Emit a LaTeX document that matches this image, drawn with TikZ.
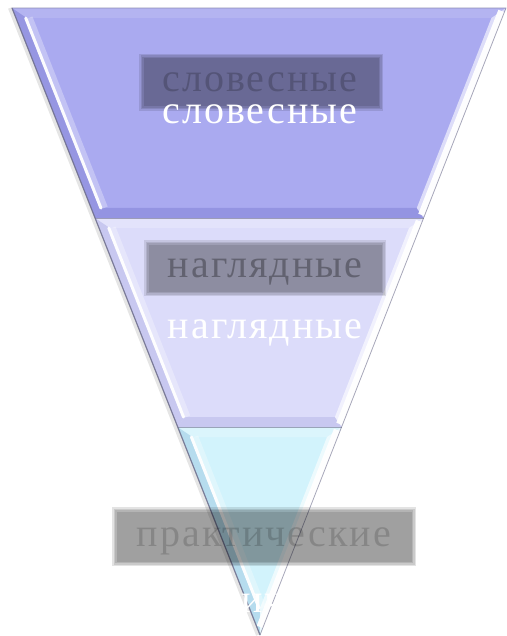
\documentclass[tikz,border=0pt]{standalone}
\usepackage{fontspec}
\setmainfont[LetterSpace=5]{Liberation Serif}
\usetikzlibrary{calc}
\definecolor{baseA}{RGB}{170,170,240}
\definecolor{darkA}{RGB}{150,150,226}
\definecolor{botA}{RGB}{148,148,226}
\definecolor{baseB}{RGB}{220,220,250}
\definecolor{darkB}{RGB}{200,200,240}
\definecolor{botB}{RGB}{200,200,240}
\definecolor{baseC}{RGB}{210,243,252}
\definecolor{darkC}{RGB}{182,220,238}
\definecolor{edgegray}{RGB}{110,110,140}
\begin{document}
\begin{tikzpicture}[x=1pt,y=-1pt,
  lbl/.style={font=\fontsize{40}{48}\selectfont, inner sep=0pt, anchor=base},
  whitelbl/.style={lbl, text=white},
  shadowlbl/.style={lbl, text=black, text opacity=0.2},
  hilite/.style={white, line width=3pt, opacity=0.95, line cap=round},
  hiliteglow/.style={white, line width=8pt, opacity=0.3},
  rhilite/.style={white, line width=7pt, opacity=0.95},
  outline/.style={draw=edgegray, line width=0.8pt, draw opacity=0.6, line join=round}]
\useasboundingbox (0,0) rectangle (506,636);
% outer corners
\coordinate (A1) at (12,8);    \coordinate (B1) at (506,8);
\coordinate (C1) at (423.6,218); \coordinate (D1) at (95.1,218);
\coordinate (C2) at (341.6,427); \coordinate (D2) at (177.7,427);
\coordinate (P) at (260,635);
% inner corners
\coordinate (a1) at (26.7,18);  \coordinate (b1) at (491.4,18);
\coordinate (c1) at (416.8,208); \coordinate (d1) at (101.9,208);
\coordinate (a2) at (109.8,228); \coordinate (b2) at (409,228);
\coordinate (c2) at (334.9,417); \coordinate (d2) at (184.5,417);
\coordinate (a3) at (192.4,437); \coordinate (b3) at (327,437);
\coordinate (p3) at (260,608);
% soft shadow along left edge
\draw[black, line width=4pt, opacity=0.10] ([xshift=-2pt]A1) -- ([xshift=-2pt]P);
% ---------- top segment ----------
\fill[baseA] (A1) -- (B1) -- (C1) -- (D1) -- cycle;
\fill[darkA] (A1) -- (a1) -- (d1) -- (D1) -- cycle;
\fill[botA] (D1) -- (d1) -- (c1) -- (C1) -- cycle;
\fill[white, opacity=0.12] (A1) -- (B1) -- (b1) -- (a1) -- cycle;
\fill[white, opacity=0.6] (B1) -- (b1) -- (c1) -- (C1) -- cycle;
\draw[hiliteglow] ([xshift=2pt]a1) -- ([xshift=2pt]d1);
\draw[hilite] ([xshift=-1pt]a1) -- ([xshift=-1pt]d1);
\draw[rhilite] ($(B1)!0.3!(b1)$) -- ($(C1)!0.3!(c1)$);
% ---------- middle segment ----------
\fill[baseB] (D1) -- (C1) -- (C2) -- (D2) -- cycle;
\fill[darkB] (D1) -- (a2) -- (d2) -- (D2) -- cycle;
\fill[botB] (D2) -- (d2) -- (c2) -- (C2) -- cycle;
\fill[white, opacity=0.2] (D1) -- (C1) -- (b2) -- (a2) -- cycle;
\fill[white, opacity=0.6] (C1) -- (b2) -- (c2) -- (C2) -- cycle;
\draw[hiliteglow] ([xshift=2pt]a2) -- ([xshift=2pt]d2);
\draw[hilite] ([xshift=-1pt]a2) -- ([xshift=-1pt]d2);
\draw[rhilite] ($(C1)!0.3!(b2)$) -- ($(C2)!0.3!(c2)$);
% ---------- bottom segment ----------
\fill[baseC] (D2) -- (C2) -- (P) -- cycle;
\fill[darkC] (D2) -- (a3) -- (p3) -- (P) -- cycle;
\fill[white, opacity=0.2] (D2) -- (C2) -- (b3) -- (a3) -- cycle;
\fill[white, opacity=0.6] (C2) -- (b3) -- (p3) -- (P) -- cycle;
\draw[hiliteglow] ([xshift=2pt]a3) -- ([xshift=2pt]p3);
\draw[hilite] ([xshift=-1pt]a3) -- ([xshift=-1pt]p3);
\draw[rhilite] ($(C2)!0.3!(b3)$) -- ($(P)!0.3!(p3)$);
% outlines
\draw[outline] (A1) -- (B1) -- (P) -- cycle;
\draw[edgegray, line width=1.2pt, opacity=0.7] (A1) -- (P);
\draw[outline] (D1) -- (C1);
\draw[outline] (D2) -- (C2);
% ---------- blurred shadow boxes ----------
\foreach \d in {3,1.5,0,-1.5} {
  \fill[black, opacity=0.11] (142-\d,57-\d) rectangle (380+\d,108+\d);
  \fill[black, opacity=0.10] (147-\d,243-\d) rectangle (383+\d,293+\d);
  \fill[black, opacity=0.11] (115-\d,510-\d) rectangle (413+\d,563+\d);
}
% shadow texts
\node[shadowlbl] (s1) at (260,92) {словесные};
\node[shadowlbl, text opacity=0.3] (s2) at (265,277) {наглядные};
\node[shadowlbl, text opacity=0.16] (s3) at (264,546) {практические};
% ---------- white labels ----------
\node[whitelbl] (t1) at (260,124) {словесные};
\node[whitelbl] (t2) at (265,338) {наглядные};
\node[whitelbl] (t3) at (263,612) {практические};
\end{tikzpicture}
\end{document}
